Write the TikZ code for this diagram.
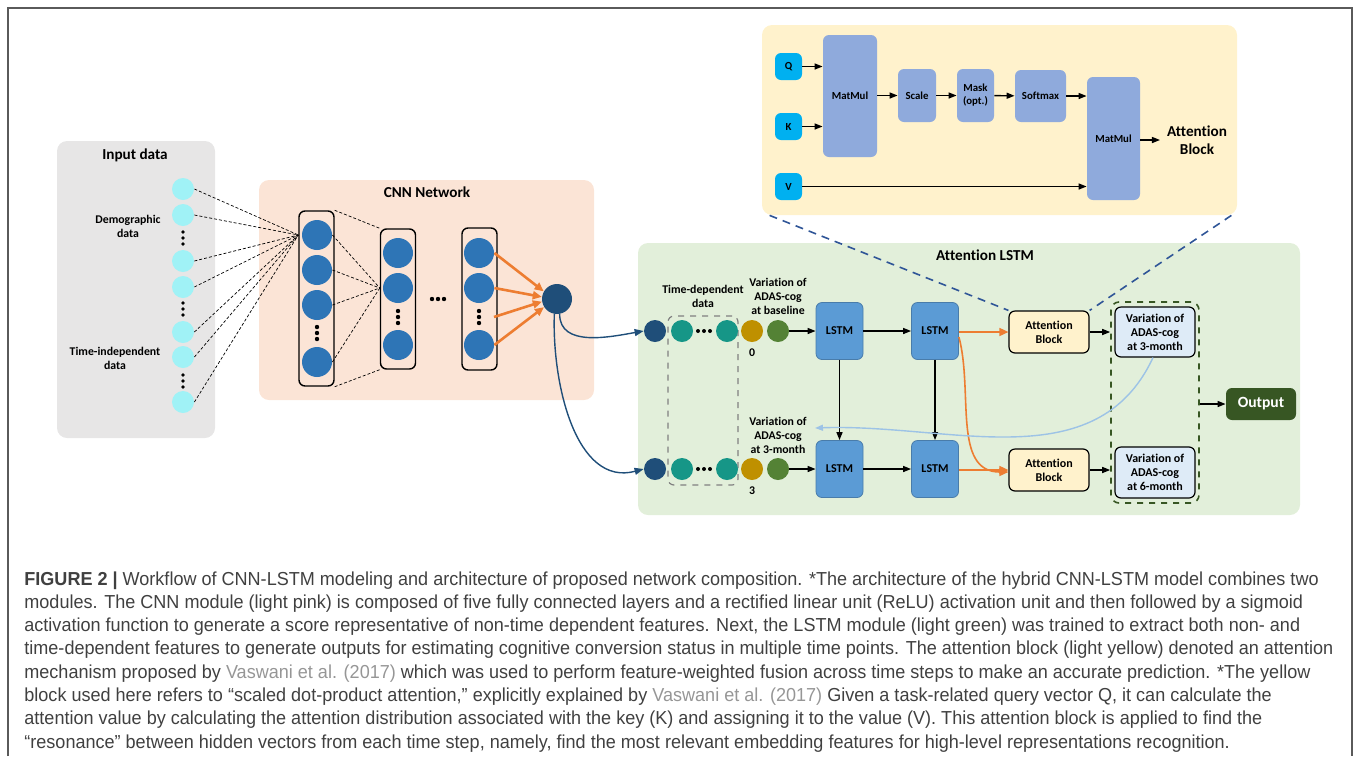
\documentclass[tikz,border=0pt]{standalone}
\usepackage{fontspec}
\setmainfont{Carlito}[Ligatures=NoCommon]
\newfontfamily\capfont[FakeStretch=0.96]{Liberation Sans}
\usetikzlibrary{arrows.meta}

\definecolor{ingray}{RGB}{231,230,230}
\definecolor{incyan}{RGB}{160,242,246}
\definecolor{cnnpeach}{RGB}{251,228,214}
\definecolor{nnblue}{RGB}{46,117,182}
\definecolor{deepblue}{RGB}{31,78,121}
\definecolor{nnorange}{RGB}{237,125,49}
\definecolor{lstmgreen}{RGB}{226,239,218}
\definecolor{attyellow}{RGB}{255,242,204}
\definecolor{qkvcyan}{RGB}{0,176,240}
\definecolor{matblue}{RGB}{143,170,220}
\definecolor{tdteal}{RGB}{22,150,135}
\definecolor{vargold}{RGB}{191,144,0}
\definecolor{varolive}{RGB}{84,130,53}
\definecolor{lstmblue}{RGB}{91,155,213}
\definecolor{outpale}{RGB}{222,235,247}
\definecolor{backblue}{RGB}{157,195,230}
\definecolor{outgreen}{RGB}{55,86,35}
\definecolor{linkblue}{RGB}{47,85,151}
\definecolor{capgray}{RGB}{64,64,64}
\definecolor{citegray}{RGB}{150,150,150}
\definecolor{framegray}{RGB}{90,90,90}

% three dots, vertical or horizontal
\newcommand{\vdotsat}[3]{\foreach \d in {-6,0,6} \fill (#1,#2+\d) circle (#3);}
\newcommand{\hdotsat}[3]{\foreach \d in {-6,0,6} \fill (#1+\d,#2) circle (#3);}

\begin{document}
\begin{tikzpicture}[x=0.5pt,y=-0.5pt,
    panel/.style={rounded corners=5pt, inner sep=0},
    ttl/.style={font=\fontsize{7.6}{9}\selectfont\bfseries},
    lbl/.style={font=\fontsize{5.9}{7}\selectfont\bfseries, align=center},
    inball/.style={circle, fill=incyan, minimum size=11pt, inner sep=0},
    nnball/.style={circle, fill=nnblue, minimum size=15pt, inner sep=0},
    tball/.style={circle, minimum size=11pt, inner sep=0},
    layerbox/.style={draw, rounded corners=3pt, line width=0.7pt, minimum width=17.5pt, inner sep=0},
    blk/.style={rounded corners=3pt, inner sep=0, align=center, font=\fontsize{5.4}{6.5}\selectfont\bfseries},
    bigblk/.style={blk, font=\fontsize{6}{7}\selectfont\bfseries},
    dashline/.style={line width=0.35pt, dash pattern=on 1.5pt off 1pt},
    arr/.style={-{Triangle[length=4pt,width=3pt]}, line width=0.7pt},
    orarr/.style={-{Triangle[length=4.5pt,width=4pt]}, line width=1.3pt, nnorange},
    blarr/.style={-{Triangle[length=4.5pt,width=3.5pt]}, line width=0.7pt, deepblue}]
\useasboundingbox (0,0) rectangle (1358,756);
\draw[framegray, line width=1pt] (8,756) -- (8,8) -- (1352,8) -- (1352,756);

% panels
\node[panel, fill=ingray, minimum width=79pt, minimum height=148.5pt] (inpanel) at (136,289.5) {};
\node[panel, fill=cnnpeach, minimum width=167.5pt, minimum height=110pt] (cnnpanel) at (426.5,290) {};
\node[panel, fill=lstmgreen, minimum width=331pt, minimum height=136pt] (lstmpanel) at (969,379) {};
\node[panel, fill=attyellow, minimum width=237.5pt, minimum height=95pt] (attpanel) at (999.5,120) {};
\node[ttl] (inttl) at (135,155) {Input data};
\node[ttl] (cnnttl) at (427,192) {CNN Network};
\node[ttl] (lstmttl) at (985,255) {Attention LSTM};

% input data
\foreach \y [count=\i] in {189,215,261,287,332,357,402}
    \node[inball] (in\i) at (183,\y) {};
\vdotsat{183}{238}{0.9pt}
\vdotsat{183}{309}{0.9pt}
\vdotsat{183}{381}{0.9pt}
\node[lbl] (demo) at (128,226) {Demographic\\data};
\node[lbl] (tind) at (115,358) {Time-independent\\data};

% CNN layers
\node[layerbox, minimum height=87.5pt] (L1) at (316.5,298.5) {};
\node[layerbox, minimum height=70pt] (L2) at (398,299) {};
\node[layerbox, minimum height=71pt] (L3) at (479.5,299) {};
\foreach \y/\n in {235/a,270/b,305/c,362/d}
    \node[nnball] (L1\n) at (317,\y) {};
\foreach \y/\n in {253/a,288/b,345/c} {
    \node[nnball] (L2\n) at (398,\y) {};
    \node[nnball] (L3\n) at (479,\y) {};
}
\vdotsat{317}{333}{1.1pt}
\vdotsat{398}{317}{1.1pt}
\vdotsat{479}{317}{1.1pt}
\hdotsat{438}{299}{1.1pt}
\node[nnball, fill=deepblue] (out) at (557,299) {};

\coordinate (hub1) at (L1a -| L1.west);
\coordinate (hub2) at (L2b -| L2.west);
\coordinate (L3dots) at (494,317);
\foreach \i in {1,...,7}
    \draw[dashline] (in\i.east) -- (hub1);
\foreach \n in {a,b,c,d}
    \draw[dashline] (L1\n.east) -- (hub2);
\draw[dashline] (L1.north east) -- (L2.north west);
\draw[dashline] (L1.south east) -- (L2.south west);
\draw[orarr] (L3a.east) -- (out.150);
\draw[orarr] (L3b.east) -- (out.172);
\draw[orarr] (L3dots) -- (out.190);
\draw[orarr] (L3c.east) -- (out.212);

% attention block (scaled dot-product)
\begin{scope}[every node/.style={blk}]
    \node[fill=qkvcyan, minimum size=13.5pt] (Q) at (788.5,66.5) {Q};
    \node[fill=qkvcyan, minimum size=13.5pt] (K) at (788.5,126.5) {K};
    \node[fill=qkvcyan, minimum size=13.5pt] (V) at (788.5,186.5) {V};
    \node[fill=matblue, minimum width=27pt, minimum height=61pt] (mm1) at (850,96) {MatMul};
    \node[fill=matblue, minimum width=19pt, minimum height=26.5pt] (scale) at (917,95.5) {Scale};
    \node[fill=matblue, minimum width=18.5pt, minimum height=26.5pt] (mask) at (975.5,95.5) {Mask\\(opt.)};
    \node[fill=matblue, minimum width=25.5pt, minimum height=26pt] (softmax) at (1040.5,96) {Softmax};
    \node[fill=matblue, minimum width=26.5pt, minimum height=61.5pt] (mm2) at (1113.5,138.5) {MatMul};
\end{scope}
\node[ttl, align=center] (attlbl) at (1197,140) {Attention\\Block};
\draw[arr] (Q.east) -- (Q -| mm1.west);
\draw[arr] (K.east) -- (K -| mm1.west);
\draw[arr] (mm1.east |- scale) -- (scale.west);
\draw[arr] (scale) -- (mask);
\draw[arr] (mask) -- (softmax);
\draw[arr] (softmax.east) -- (softmax -| mm2.west);
\draw[arr] (V.east) -- (V -| mm2.west);
\draw[arr] (mm2.east |- attlbl) -- (attlbl.west);

% attention LSTM
\node[draw=gray, dashed, line width=0.6pt, rounded corners=3pt, minimum width=35pt, minimum height=84.5pt] (tdbox) at (703,400.5) {};
\node[draw=outgreen, dashed, line width=0.8pt, rounded corners=4pt, minimum width=44pt, minimum height=100.5pt] (vgroup) at (1155,402.5) {};
\foreach \r/\y in {1/331,2/469} {
    \node[tball, fill=deepblue] (d\r) at (655,\y) {};
    \node[tball, fill=tdteal] (ta\r) at (682,\y) {};
    \node[tball, fill=tdteal] (tb\r) at (727,\y) {};
    \node[tball, fill=vargold] (g\r) at (752,\y) {};
    \node[tball, fill=varolive] (o\r) at (778,\y) {};
    \hdotsat{704}{\y}{1pt}
    \node[bigblk, draw=lstmblue!80!black, line width=0.4pt, fill=lstmblue, minimum width=23.5pt, minimum height=28.5pt] (ls\r1) at (839.5,\y) {LSTM};
    \node[bigblk, draw=lstmblue!80!black, line width=0.4pt, fill=lstmblue, minimum width=23.5pt, minimum height=28.5pt] (ls\r2) at (935,\y) {LSTM};
    \node[bigblk, draw, line width=0.6pt, fill=attyellow, minimum width=40pt, minimum height=21pt] (ab\r) at (1049,\y+1) {Attention\\Block};
    \draw[arr] (o\r) -- (ls\r1);
    \draw[arr] (ls\r1) -- (ls\r2);
    \draw[orarr, line width=0.8pt] (ls\r2.east |- ab\r) -- (ab\r.west);
}
\node[lbl] (zero) at (752,353) {0};
\node[lbl] (three) at (752,491) {3};
\node[lbl] (tdlbl) at (703,296) {Time-dependent\\data};
\node[lbl] (base) at (778,296) {Variation of\\ADAS-cog\\at baseline};
\node[lbl] (m3in) at (778,435) {Variation of\\ADAS-cog\\at 3-month};
\node[bigblk, draw, line width=0.6pt, fill=outpale, minimum width=40pt, minimum height=25pt] (vb1) at (1155,332) {Variation of\\ADAS-cog\\at 3-month};
\node[bigblk, draw, line width=0.6pt, fill=outpale, minimum width=40pt, minimum height=25.5pt] (vb2) at (1155,472.5) {Variation of\\ADAS-cog\\at 6-month};
\node[blk, fill=outgreen, text=white, minimum width=35pt, minimum height=16pt, font=\fontsize{7.8}{9}\selectfont\bfseries] (output) at (1261,404) {Output};
\coordinate (fb) at (815,428);

\draw[arr] (ls11) -- (ls21);
\draw[arr] (ls12) -- (ls22);
\draw[arr] (ab1.east) -- (ab1 -| vgroup.west);
\draw[arr] (ab2.east) -- (ab2 -| vgroup.west);
\draw[arr] (vgroup.east |- output) -- (output.west);
\draw[orarr, line width=0.8pt] ([yshift=-3pt]ls12.east) to[out=-75,in=180] ([yshift=-1pt]ab2.west);
\draw[backblue, line width=0.7pt, -{Triangle[length=4pt,width=3pt]}] ([xshift=-1pt]vb1.south) to[out=-115,in=2] (fb);
\draw[blarr] (out.-80) to[out=-90,in=190] (d1.west);
\draw[blarr] (out.-100) to[out=-92,in=195] (d2.west);
\draw[linkblue, dashed, line width=0.8pt, dash pattern=on 4pt off 3pt] ([xshift=4pt]attpanel.south west) -- (ab1.north west);
\draw[linkblue, dashed, line width=0.8pt, dash pattern=on 4pt off 3pt] ([xshift=-3pt]attpanel.south east) -- (ab1.north east);

% caption
\node[anchor=north west, inner sep=0, align=left, text=capgray,
      font=\capfont\fontsize{9.4}{11.65}\selectfont] (caption) at (24,571) {%
\textbf{FIGURE 2 |} Workflow of CNN-LSTM modeling and architecture of proposed network composition. *The architecture of the hybrid CNN-LSTM model combines two\\
modules. The CNN module (light pink) is composed of five fully connected layers and a rectified linear unit (ReLU) activation unit and then followed by a sigmoid\\
activation function to generate a score representative of non-time dependent features. Next, the LSTM module (light green) was trained to extract both non- and\\
time-dependent features to generate outputs for estimating cognitive conversion status in multiple time points. The attention block (light yellow) denoted an attention\\
mechanism proposed by \textcolor{citegray}{Vaswani et al. (2017)} which was used to perform feature-weighted fusion across time steps to make an accurate prediction. *The yellow\\
block used here refers to “scaled dot-product attention,” explicitly explained by \textcolor{citegray}{Vaswani et al. (2017)} Given a task-related query vector Q, it can calculate the\\
attention value by calculating the attention distribution associated with the key (K) and assigning it to the value (V). This attention block is applied to find the\\
“resonance” between hidden vectors from each time step, namely, find the most relevant embedding features for high-level representations recognition.};
\end{tikzpicture}
\end{document}
